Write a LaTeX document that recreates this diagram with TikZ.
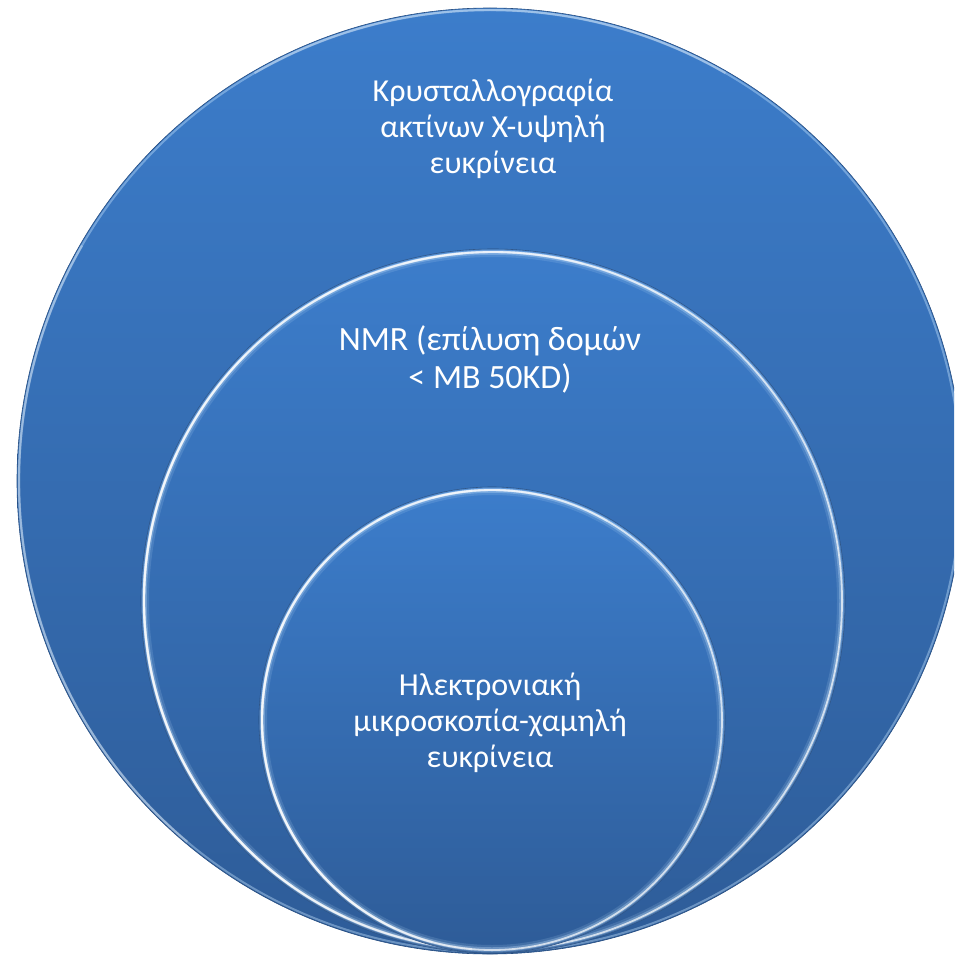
\documentclass[tikz,border=0pt]{standalone}
\usepackage{fontspec}
\setmainfont{Carlito}
\definecolor{topblue}{RGB}{60,125,203}
\definecolor{botblue}{RGB}{46,92,152}
\definecolor{glowblue}{RGB}{200,230,255}
\tikzset{
  disc/.style={top color=topblue, bottom color=botblue, draw=botblue!85!black, line width=0.6pt},
  glowwide/.style={draw=glowblue, line width=8pt, opacity=0.14},
  glowmid/.style={draw=glowblue, line width=4.5pt, opacity=0.3},
  glowthin/.style={draw=white, line width=1.8pt, opacity=0.7},
  glowarc/.style={draw=white, line width=2.4pt, opacity=0.3},
  rimglow/.style={draw=glowblue, line width=2pt, opacity=0.4},
  label/.style={text=white, align=center, inner sep=0pt},
  lblsmall/.style={label, font=\fontsize{32}{36}\selectfont},
  lblbig/.style={label, font=\fontsize{34}{38}\selectfont}
}
\newcommand{\ringglow}[2]{%
  \draw[glowwide] (#1) circle (#2-4pt);
  \draw[glowmid] (#1) circle (#2-3.5pt);
  \draw[glowthin] (#1) circle (#2-3pt);
  \foreach \a/\b in {95/265, 115/255, 135/245, 155/235, 60/120, 75/105}
    \draw[glowarc] (#1) ++(\a:#2-3pt) arc[start angle=\a, end angle=\b, radius=#2-3pt];
}
\begin{document}
\begin{tikzpicture}[x=1pt,y=-1pt]
\useasboundingbox (0,0) rectangle (954,958);
\begin{scope}
\clip (0,0) rectangle (954,958);
% big circle
\coordinate (cA) at (490,481);
\shade[disc] (cA) circle (473pt);
\draw[rimglow] (cA) circle (471pt);
\foreach \a/\b in {60/120, 150/230}
  \draw[glowarc, opacity=0.3] (cA) ++(\a:471pt) arc[start angle=\a, end angle=\b, radius=471pt];
% middle circle
\coordinate (cB) at (493,601);
\shade[disc] (cB) circle (352pt);
\ringglow{cB}{352pt}
% small circle
\coordinate (cC) at (492,720);
\shade[disc] (cC) circle (233pt);
\ringglow{cC}{233pt}
\end{scope}
\node[lblsmall] (tA) at (493,129) {Κρυσταλλογραφία\\ακτίνων Χ-υψηλή\\ευκρίνεια};
\node[lblbig] (tB) at (490,359) {NMR (επίλυση δομών\\< MB 50KD)};
\node[lblsmall] (tC) at (490,723) {Ηλεκτρονιακή\\μικροσκοπία-χαμηλή\\ευκρίνεια};
\end{tikzpicture}
\end{document}
